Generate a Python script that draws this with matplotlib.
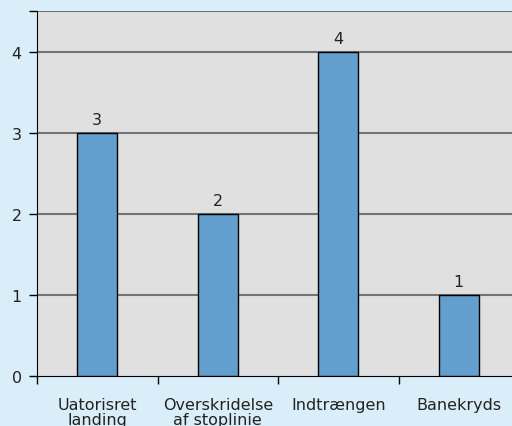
import matplotlib.pyplot as plt
import numpy as np

kategorier = ["Uatorisret\nlanding", "Overskridelse\naf stoplinie", "Indtrængen", "Banekryds"]
antal = [3, 2, 4, 1]
y_ticks = [0, 1, 2, 3, 4]

fig = plt.figure(figsize=(5.12, 4.27), dpi=100)
fig.patch.set_facecolor("#D9EEF9")
ax = fig.add_axes([37 / 512, 50 / 427, 482 / 512, 365 / 427])
ax.set_facecolor("#E0E0E0")

x = np.arange(len(kategorier)) + 0.5
bars = ax.bar(x, antal, width=0.33, color="#629ECE", edgecolor="black", linewidth=1, zorder=3)
for b, v in zip(bars, antal):
    ax.text(b.get_x() + b.get_width() / 2, v + 0.07, str(v), ha="center", va="bottom",
            fontsize=11.5, color="#222222")

ax.set_xlim(0, len(kategorier))
ax.set_ylim(0, 4.5)

# gitterlinjer
for yv in y_ticks[1:] + [4.5]:
    ax.axhline(yv, color="#747474", linewidth=1.5, zorder=1)

ax.set_yticks(y_ticks + [4.5])
ax.set_yticklabels([str(t) for t in y_ticks] + [""], fontsize=11.5, color="#222222")
ax.set_xticks(np.arange(len(kategorier) + 1))
ax.set_xticklabels([""] * (len(kategorier) + 1))
ax.set_xticks(x, minor=True)
ax.set_xticklabels(kategorier, minor=True, fontsize=11.5, color="#222222", linespacing=1.0)
ax.tick_params(axis="x", which="minor", length=0, pad=15)
ax.tick_params(axis="x", which="major", length=6, width=1, color="black")
ax.tick_params(axis="y", length=6, width=1, color="black", pad=5)

for s in ["top", "right"]:
    ax.spines[s].set_visible(False)
ax.spines["left"].set_color("black")
ax.spines["bottom"].set_color("black")

fig.savefig("out.png", dpi=100, facecolor=fig.get_facecolor())
